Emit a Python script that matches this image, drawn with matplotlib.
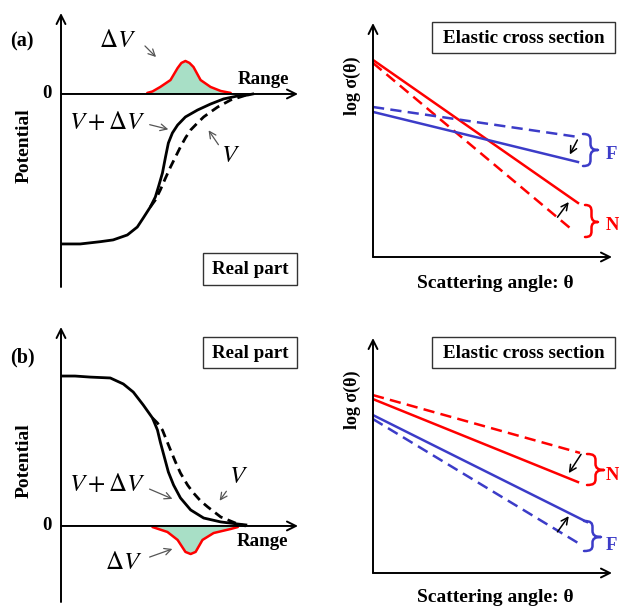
import matplotlib
matplotlib.use("Agg")
import matplotlib.pyplot as plt
from matplotlib.patches import Rectangle, FancyArrowPatch, PathPatch
from matplotlib.path import Path

plt.rcParams['font.family'] = ['Liberation Serif', 'DejaVu Serif']
plt.rcParams['mathtext.fontset'] = 'stix'

W, H = 619, 608

# ---------------- data ----------------
# Panel (a): attractive potential (range r, potential V; depth normalised to -1)
a_r_sol = [0.0, 0.81, 1.65, 2.20, 2.80, 3.22, 3.47, 3.77, 3.98, 4.11, 4.28, 4.41, 4.53, 4.70,
           4.92, 5.25, 5.76, 6.31, 6.86, 7.46, 7.88, 8.09]
a_v_sol = [-1.0, -1.0, -0.985, -0.973, -0.94, -0.887, -0.827, -0.753, -0.687, -0.62, -0.527,
           -0.42, -0.327, -0.26, -0.207, -0.153, -0.107, -0.067, -0.033, -0.013, -0.007, 0.0]
a_r_das = [3.77, 3.98, 4.19, 4.41, 4.62, 4.83, 5.04, 5.25, 5.47, 5.76, 6.02, 6.31, 6.61,
           7.16, 7.71, 7.92]
a_v_das = [-0.753, -0.707, -0.64, -0.56, -0.487, -0.42, -0.353, -0.293, -0.24, -0.193, -0.153,
           -0.12, -0.087, -0.04, -0.013, 0.0]
a_r_dv = [3.64, 3.86, 4.19, 4.62, 4.92, 5.08, 5.25, 5.42, 5.59, 5.89, 6.31, 6.74, 7.16]
a_v_dv = [0.007, 0.017, 0.047, 0.093, 0.173, 0.207, 0.22, 0.207, 0.18, 0.093, 0.047, 0.02, 0.007]

# Panel (b): repulsive potential
b_r_sol = [0.0, 0.59, 1.23, 2.08, 2.63, 3.05, 3.47, 3.86, 4.07, 4.19, 4.36, 4.53, 4.75, 5.04,
           5.47, 6.02, 6.74, 7.46, 7.80]
b_v_sol = [1.0, 1.0, 0.993, 0.987, 0.947, 0.893, 0.807, 0.72, 0.64, 0.56, 0.46, 0.36, 0.273,
           0.187, 0.107, 0.053, 0.027, 0.013, 0.007]
b_r_das = [3.86, 4.07, 4.28, 4.45, 4.62, 4.83, 5.04, 5.34, 5.59, 5.89, 6.19, 6.74, 7.46, 7.80]
b_v_das = [0.72, 0.687, 0.64, 0.573, 0.507, 0.427, 0.353, 0.273, 0.22, 0.167, 0.127, 0.06,
           0.013, 0.0]
b_r_dv = [3.86, 4.49, 4.92, 5.25, 5.47, 5.68, 5.97, 6.44, 7.16, 7.46]
b_v_dv = [-0.007, -0.04, -0.093, -0.173, -0.187, -0.173, -0.093, -0.047, -0.02, -0.007]

# Cross sections (angle theta normalised, log sigma normalised), [start, end]
a_theta = [0.0, 1.0]
a_N_sol = [0.842, 0.231]
a_N_das_theta = [0.0, 0.961]
a_N_das = [0.829, 0.124]
a_F_das = [0.641, 0.513]
a_F_sol = [0.620, 0.406]

b_theta = [0.0, 1.0]
b_N_das_theta = [0.0, 1.01]
b_N_das = [0.757, 0.511]
b_N_sol = [0.740, 0.387]
b_F_sol_theta = [0.0, 1.044]
b_F_sol = [0.672, 0.217]
b_F_das = [0.655, 0.128]

RED = '#ff0000'
BLUE = '#3c3cc8'
GREEN = '#a8dfc6'

fig = plt.figure(figsize=(W / 100, H / 100), dpi=100)


def fx(px):
    return px / W


def fy(py):
    return 1 - py / H


def add_ax(x0, x1, y0, y1):
    ax = fig.add_axes([fx(x0), fy(y1), (x1 - x0) / W, (y1 - y0) / H])
    ax.set_axis_off()
    return ax


def ftext(px, py, s, **kw):
    kw.setdefault('ha', 'center')
    kw.setdefault('va', 'center')
    fig.text(fx(px), fy(py), s, **kw)


def fbox(x0, y0, x1, y1, s):
    fig.patches.append(Rectangle((fx(x0), fy(y1)), (x1 - x0) / W, (y1 - y0) / H,
                                 transform=fig.transFigure, fill=False,
                                 edgecolor='#333333', lw=1.0))
    ftext((x0 + x1) / 2, (y0 + y1) / 2 + 1, s, fontsize=13.7, fontweight='bold')


def farrow(x0, y0, x1, y1, color='#555555', lw=0.9):
    fig.add_artist(FancyArrowPatch(
        (fx(x0), fy(y0)), (fx(x1), fy(y1)), transform=fig.transFigure,
        arrowstyle='->', mutation_scale=12, color=color, lw=lw))


def fbrace(x0, ytop, ybot, xtip, ymid, color):
    xm = x0 + (xtip - x0) * 0.5
    q1 = (ymid - ytop) * 0.4
    q2 = (ybot - ymid) * 0.4
    pts = [(x0, ytop), (x0 + (xm - x0) * 0.8, ytop), (xm, ytop + q1 * 0.3), (xm, ytop + q1),
           (xm, ymid - q1),
           (xm, ymid - q1 * 0.3), (xm + (xtip - xm) * 0.3, ymid), (xtip, ymid),
           (xm + (xtip - xm) * 0.3, ymid), (xm, ymid + q2 * 0.3), (xm, ymid + q2),
           (xm, ybot - q2),
           (xm, ybot - q2 * 0.3), (x0 + (xm - x0) * 0.8, ybot), (x0, ybot)]
    codes = [Path.MOVETO, Path.CURVE4, Path.CURVE4, Path.CURVE4,
             Path.LINETO,
             Path.CURVE4, Path.CURVE4, Path.CURVE4,
             Path.CURVE4, Path.CURVE4, Path.CURVE4,
             Path.LINETO,
             Path.CURVE4, Path.CURVE4, Path.CURVE4]
    verts = [(fx(x), fy(y)) for x, y in pts]
    fig.add_artist(PathPatch(Path(verts, codes), transform=fig.transFigure,
                             fill=False, edgecolor=color, lw=1.8,
                             capstyle='round', joinstyle='round'))


AXARROW = dict(arrowstyle='->', mutation_scale=16, color='black', lw=1.4,
               shrinkA=0, shrinkB=0)
SMALLARROW = dict(arrowstyle='->', mutation_scale=12, color='black', lw=1.1,
                  shrinkA=0, shrinkB=0)


def axes_frame(ax, y0):
    xl = ax.get_xlim()
    yl = ax.get_ylim()
    ax.annotate('', xy=(0, yl[1]), xytext=(0, yl[0]), arrowprops=AXARROW,
                annotation_clip=False)
    ax.annotate('', xy=(xl[1], y0), xytext=(0, y0), arrowprops=AXARROW,
                annotation_clip=False)


# ---------- panel (a) left ----------
ax = add_ax(61, 298, 13, 287)
ax.set_xlim(0, 10)
ax.set_ylim(-1.287, 0.54)
axes_frame(ax, 0)
ax.fill_between(a_r_dv, 0, a_v_dv, color=GREEN, lw=0)
ax.plot(a_r_dv, a_v_dv, color=RED, lw=1.8, solid_capstyle='round')
ax.plot(a_r_sol, a_v_sol, color='black', lw=2.0, solid_joinstyle='round')
ax.plot(a_r_das, a_v_das, color='black', lw=2.0, dashes=(3.2, 2.0))

ftext(22, 41, '(a)', fontsize=14.5, fontweight='bold')
ftext(47, 94, '0', fontsize=13.5, fontweight='bold')
ftext(263, 80, 'Range', fontsize=13.7, fontweight='bold')
ftext(24, 146, 'Potential', fontsize=14, fontweight='bold', rotation=90)
ftext(118, 41, r'$\Delta V$', fontsize=18)
farrow(143, 44, 158, 59)
ftext(107, 122, r'$V + \Delta V$', fontsize=18)
farrow(147, 124, 171, 130)
ftext(231, 156, r'$V$', fontsize=18)
farrow(220, 147, 207, 128)
fbox(203, 253, 297, 285, 'Real part')

# ---------- panel (a) right ----------
ax = add_ax(373, 612, 23, 257)
ax.set_xlim(0, 1.166)
ax.set_ylim(0, 1)
axes_frame(ax, 0)
ax.plot(a_N_das_theta, a_N_das, color=RED, lw=1.8, dashes=(4.5, 2.5))
ax.plot(a_theta, a_N_sol, color=RED, lw=1.8)
ax.plot(a_theta, a_F_das, color=BLUE, lw=1.8, dashes=(4.5, 2.5))
ax.plot(a_theta, a_F_sol, color=BLUE, lw=1.8)
ax.annotate('', xy=(0.96, 0.438), xytext=(0.997, 0.50), arrowprops=SMALLARROW)
ax.annotate('', xy=(0.955, 0.235), xytext=(0.90, 0.17), arrowprops=SMALLARROW)
fbrace(583, 134, 166, 598, 150, BLUE)
ftext(611, 155, 'F', fontsize=13.5, fontweight='bold', color=BLUE)
fbrace(585, 205, 237, 598, 222, RED)
ftext(612, 226, 'N', fontsize=13.5, fontweight='bold', color=RED)
fbox(432, 22, 615, 53, 'Elastic cross section')
ftext(352, 86, r'log σ(θ)', fontsize=13, fontweight='bold', rotation=90)
ftext(495, 284, 'Scattering angle: θ', fontsize=14, fontweight='bold')

# ---------- panel (b) left ----------
ax = add_ax(61, 298, 327, 602)
ax.set_xlim(0, 10)
ax.set_ylim(-0.507, 1.327)
axes_frame(ax, 0)
ax.fill_between(b_r_dv, 0, b_v_dv, color=GREEN, lw=0)
ax.plot(b_r_dv, b_v_dv, color=RED, lw=1.8, solid_capstyle='round')
ax.plot(b_r_sol, b_v_sol, color='black', lw=2.0, solid_joinstyle='round')
ax.plot(b_r_das, b_v_das, color='black', lw=2.0, dashes=(3.2, 2.0))

ftext(22, 357, '(b)', fontsize=14.5, fontweight='bold')
ftext(47, 526, '0', fontsize=13.5, fontweight='bold')
ftext(262, 542, 'Range', fontsize=13.7, fontweight='bold')
ftext(24, 461, 'Potential', fontsize=14, fontweight='bold', rotation=90)
ftext(124, 563, r'$\Delta V$', fontsize=18)
farrow(147, 558, 175, 548)
ftext(107, 484, r'$V + \Delta V$', fontsize=18)
farrow(147, 488, 175, 500)
ftext(239, 477, r'$V$', fontsize=18)
farrow(228, 489, 218, 503)
fbox(203, 337, 297, 368, 'Real part')

# ---------- panel (b) right ----------
ax = add_ax(373, 612, 338, 573)
ax.set_xlim(0, 1.166)
ax.set_ylim(0, 1)
axes_frame(ax, 0)
ax.plot(b_N_das_theta, b_N_das, color=RED, lw=1.8, dashes=(4.5, 2.5))
ax.plot(b_theta, b_N_sol, color=RED, lw=1.8)
ax.plot(b_F_sol_theta, b_F_sol, color=BLUE, lw=1.8)
ax.plot(b_theta, b_F_das, color=BLUE, lw=1.8, dashes=(4.5, 2.5))
ax.annotate('', xy=(0.955, 0.425), xytext=(1.015, 0.505), arrowprops=SMALLARROW)
ax.annotate('', xy=(0.955, 0.242), xytext=(0.90, 0.175), arrowprops=SMALLARROW)
fbrace(587, 454, 485, 604, 470, RED)
ftext(612, 475, 'N', fontsize=13.5, fontweight='bold', color=RED)
fbrace(584, 521, 551, 601, 537, BLUE)
ftext(611, 546, 'F', fontsize=13.5, fontweight='bold', color=BLUE)
fbox(432, 337, 615, 368, 'Elastic cross section')
ftext(352, 400, r'log σ(θ)', fontsize=13, fontweight='bold', rotation=90)
ftext(495, 598, 'Scattering angle: θ', fontsize=14, fontweight='bold')

fig.savefig('out.png', dpi=100)
